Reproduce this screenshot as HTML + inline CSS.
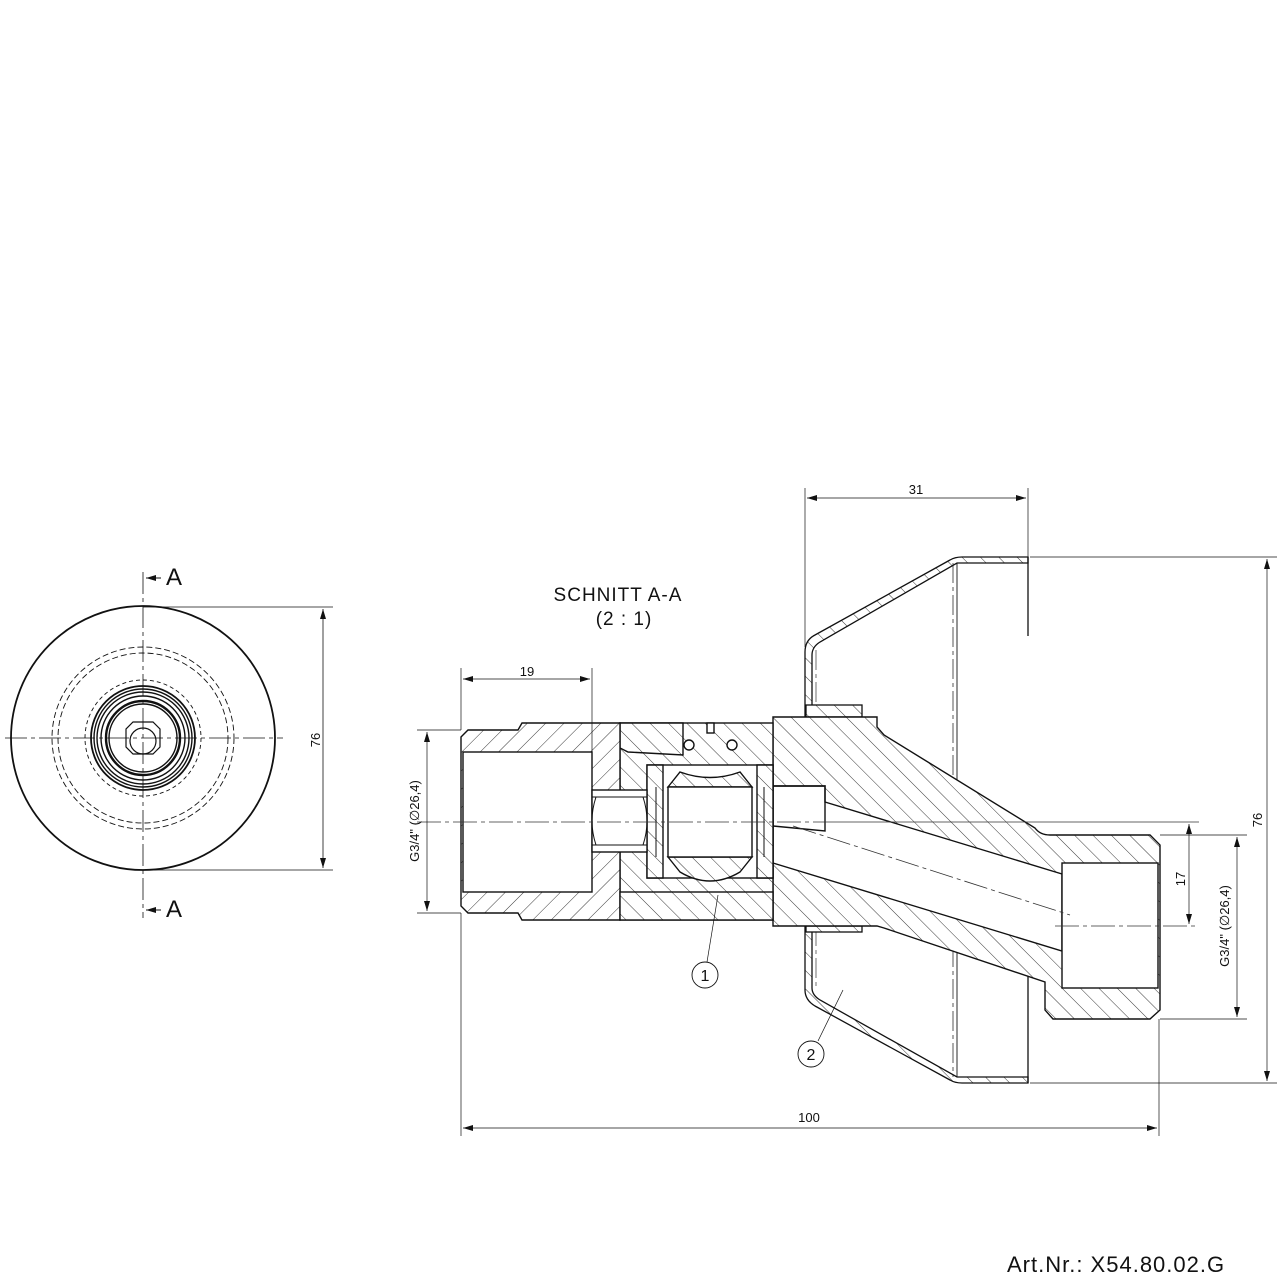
<!DOCTYPE html>
<html><head><meta charset="utf-8"><style>
html,body{margin:0;padding:0;background:#fff;}
svg{display:block;}
text{font-family:"Liberation Sans",sans-serif;fill:#111;}
</style></head><body>
<svg width="1280" height="1280" viewBox="0 0 1280 1280" xmlns="http://www.w3.org/2000/svg">
<defs>
<pattern id="hf" patternUnits="userSpaceOnUse" width="13" height="13" patternTransform="rotate(45)">
<rect width="13" height="13" fill="#fff"/><line x1="0" y1="0" x2="0" y2="13" stroke="#222" stroke-width="0.9"/>
</pattern>
<pattern id="hb" patternUnits="userSpaceOnUse" width="13" height="13" patternTransform="rotate(-45)">
<rect width="13" height="13" fill="#fff"/><line x1="0" y1="0" x2="0" y2="13" stroke="#222" stroke-width="0.9"/>
</pattern>
<marker id="ar" viewBox="0 0 10 6" refX="10" refY="3" markerWidth="10" markerHeight="6" orient="auto-start-reverse" markerUnits="userSpaceOnUse"><path d="M0,0 L10,3 L0,6 Z" fill="#111"/></marker>
</defs>

<!-- LEFT VIEW -->
<g fill="none" stroke="#111">
<circle cx="143" cy="738" r="132" stroke-width="1.8"/>
<circle cx="143" cy="738" r="91" stroke-width="0.9" stroke-dasharray="6,3"/>
<circle cx="143" cy="738" r="85" stroke-width="0.9" stroke-dasharray="6,3"/>
<circle cx="143" cy="738" r="58" stroke-width="0.9" stroke-dasharray="4,3"/>
<circle cx="143" cy="738" r="52" stroke-width="1.8"/>
<circle cx="143" cy="738" r="49" stroke-width="1.4"/>
<circle cx="143" cy="738" r="46" stroke-width="1.4"/>
<circle cx="143" cy="738" r="42" stroke-width="1.4"/>
<circle cx="143" cy="738" r="37" stroke-width="2.4"/>
<circle cx="143" cy="738" r="34" stroke-width="1.4"/>
<path d="M133,722 L153,722 L160,729 L160,747 L153,754 L133,754 L126,747 L126,729 Z" stroke-width="1.2"/>
<circle cx="143" cy="741" r="13" stroke-width="1.2"/>
<line x1="5" y1="738" x2="283" y2="738" stroke-width="0.8" stroke-dasharray="22,4,4,4"/>
<line x1="143" y1="572" x2="143" y2="918" stroke-width="0.8" stroke-dasharray="22,4,4,4"/>
<line x1="143" y1="607" x2="333" y2="607" stroke-width="0.7"/>
<line x1="143" y1="870" x2="333" y2="870" stroke-width="0.7"/>
<line x1="323" y1="609" x2="323" y2="868" stroke-width="0.8" marker-start="url(#ar)" marker-end="url(#ar)"/>
<line x1="161" y1="578" x2="146" y2="578" stroke-width="1" marker-end="url(#ar)"/>
<line x1="161" y1="910" x2="146" y2="910" stroke-width="1" marker-end="url(#ar)"/>
</g>
<text x="166" y="585" font-size="24">A</text>
<text x="166" y="917" font-size="24">A</text>
<text transform="translate(320,740) rotate(-90)" font-size="13" text-anchor="middle">76</text>

<!-- TITLE -->
<text x="618" y="601" font-size="19" text-anchor="middle" letter-spacing="1">SCHNITT A-A</text>
<text x="624" y="625" font-size="19" text-anchor="middle" letter-spacing="1">(2 : 1)</text>

<!-- SHROUD (2) -->
<g stroke="#111" stroke-width="1.3">
<path d="M805,717 L805,652 Q805,640 815,635 L950,560 Q955,557 962,557 L1028,557 L1028,563 L962,563 L957,563 L820,642 Q812,647 812,655 L812,717 Z" fill="url(#hb)"/>
<path d="M805,926 L805,990 Q805,1000 815,1006 L950,1080 Q955,1083 962,1083 L1028,1083 L1028,1077 L962,1077 L957,1077 L820,1000 Q812,995 812,988 L812,926 Z" fill="url(#hb)"/>
<line x1="1028" y1="557" x2="1028" y2="636"/>
<line x1="1028" y1="835" x2="1028" y2="1083"/>
<line x1="957" y1="563" x2="957" y2="1077" stroke-width="0.9"/>
<line x1="953" y1="563" x2="953" y2="1077" stroke-width="0.7" stroke-dasharray="20,4,4,4"/>
<line x1="816" y1="650" x2="816" y2="717" stroke-width="0.6" stroke-dasharray="20,4,4,4"/>
<line x1="816" y1="926" x2="816" y2="990" stroke-width="0.6" stroke-dasharray="20,4,4,4"/>
<rect x="806" y="705" width="56" height="12" fill="url(#hb)"/>
<rect x="806" y="926" width="56" height="6" fill="url(#hb)"/>
</g>

<!-- BODY 2 -->
<g stroke="#111" stroke-width="1.4">
<path d="M773,717 L877,717 L877,727 L884,735 L1035,828 Q1040,835 1050,835 L1150,835 L1160,845 L1160,1010 L1150,1019 L1053,1019 L1045,1010 L1045,982 L884,928 L877,926 L773,926 Z" fill="url(#hb)"/>
<path d="M773,786 L825,786 L825,802 L1062,874 L1062,951 L773,863 Z" fill="#fff"/>
<rect x="1062" y="863" width="96" height="125" fill="#fff"/>
<path d="M773,786 L825,786 L825,831 L773,826" fill="none"/>
</g>

<!-- BODY 1 -->
<g stroke="#111" stroke-width="1.4">
<rect x="620" y="723" width="153" height="197" fill="url(#hb)"/>
<path d="M620,723 L683,723 L683,755 L628,752 L620,748 Z" fill="url(#hb)"/>
<rect x="647" y="765" width="126" height="113" fill="#fff"/>
<path d="M647,765 L663,765 L663,878 L647,878 Z M757,765 L773,765 L773,878 L757,878 Z" fill="url(#hb)"/>
<path d="M668,787 L680,772 Q710,783 740,772 L752,787 Z" fill="url(#hb)"/>
<path d="M668,857 L680,872 Q710,890 740,872 L752,857 Z" fill="url(#hb)"/>
<rect x="668" y="787" width="84" height="70" fill="#fff"/>
<line x1="656" y1="787" x2="656" y2="857" stroke-width="1"/>
<line x1="764" y1="787" x2="764" y2="857" stroke-width="1"/>
<circle cx="689" cy="745" r="5" fill="#fff"/>
<circle cx="732" cy="745" r="5" fill="#fff"/>
<rect x="707" y="723" width="7" height="10" fill="#fff"/>
</g>

<!-- NUT LEFT -->
<g stroke="#111" stroke-width="1.4">
<path d="M461,737 L468,730 L518,730 L522,723 L620,723 L620,920 L522,920 L518,913 L468,913 L461,906 Z" fill="url(#hf)"/>
<rect x="463" y="752" width="129" height="140" fill="#fff"/>
<rect x="592" y="790" width="55" height="62" fill="#fff"/>
<line x1="592" y1="797" x2="647" y2="797" stroke-width="1"/>
<line x1="592" y1="845" x2="647" y2="845" stroke-width="1"/>
<path d="M596,797 Q588,821 596,845" fill="none" stroke-width="1"/>
<path d="M643,797 Q651,821 643,845" fill="none" stroke-width="1"/>
<rect x="620" y="892" width="153" height="28" fill="url(#hb)"/>
</g>

<!-- center lines -->
<g stroke="#333" stroke-width="0.8" fill="none" stroke-dasharray="24,4,4,4">
<line x1="417" y1="822" x2="825" y2="822"/>
<line x1="793" y1="826" x2="1070" y2="915"/>
<line x1="1055" y1="926" x2="1199" y2="926"/>
</g>
<line x1="825" y1="822" x2="1199" y2="822" stroke="#333" stroke-width="0.7"/>

<!-- DIMENSIONS -->
<g stroke="#111" stroke-width="0.7" fill="none">
<line x1="805" y1="488" x2="805" y2="647"/>
<line x1="1028" y1="488" x2="1028" y2="557"/>
<line x1="807" y1="498" x2="1026" y2="498" marker-start="url(#ar)" marker-end="url(#ar)"/>
<line x1="461" y1="668" x2="461" y2="730"/>
<line x1="592" y1="668" x2="592" y2="790"/>
<line x1="463" y1="679" x2="590" y2="679" marker-start="url(#ar)" marker-end="url(#ar)"/>
<line x1="461" y1="913" x2="461" y2="1136"/>
<line x1="1159" y1="1019" x2="1159" y2="1136"/>
<line x1="463" y1="1128" x2="1157" y2="1128" marker-start="url(#ar)" marker-end="url(#ar)"/>
<line x1="1030" y1="557" x2="1277" y2="557"/>
<line x1="1030" y1="1083" x2="1277" y2="1083"/>
<line x1="1267" y1="559" x2="1267" y2="1081" marker-start="url(#ar)" marker-end="url(#ar)"/>
<line x1="1189" y1="824" x2="1189" y2="924" marker-start="url(#ar)" marker-end="url(#ar)"/>
<line x1="1160" y1="835" x2="1247" y2="835"/>
<line x1="1160" y1="1019" x2="1247" y2="1019"/>
<line x1="1237" y1="837" x2="1237" y2="1017" marker-start="url(#ar)" marker-end="url(#ar)"/>
<line x1="417" y1="730" x2="461" y2="730"/>
<line x1="417" y1="913" x2="461" y2="913"/>
<line x1="427" y1="732" x2="427" y2="911" marker-start="url(#ar)" marker-end="url(#ar)"/>
<line x1="718" y1="895" x2="707" y2="962"/>
<line x1="843" y1="990" x2="818" y2="1041"/>
<circle cx="705" cy="975" r="13" stroke-width="0.9"/>
<circle cx="811" cy="1054" r="13" stroke-width="0.9"/>
</g>
<text x="916" y="494" font-size="13" text-anchor="middle">31</text>
<text x="527" y="676" font-size="13" text-anchor="middle">19</text>
<text x="809" y="1122" font-size="13" text-anchor="middle">100</text>
<text transform="translate(1262,820) rotate(-90)" font-size="13" text-anchor="middle">76</text>
<text transform="translate(1185,879) rotate(-90)" font-size="13" text-anchor="middle">17</text>
<text transform="translate(1229,926) rotate(-90)" font-size="13" text-anchor="middle">G3/4" (∅26,4)</text>
<text transform="translate(419,821) rotate(-90)" font-size="13" text-anchor="middle">G3/4" (∅26,4)</text>
<text x="705" y="981" font-size="16" text-anchor="middle">1</text>
<text x="811" y="1060" font-size="16" text-anchor="middle">2</text>

<text x="1007" y="1272" font-size="22" letter-spacing="1">Art.Nr.:  X54.80.02.G</text>
</svg>
</body></html>
